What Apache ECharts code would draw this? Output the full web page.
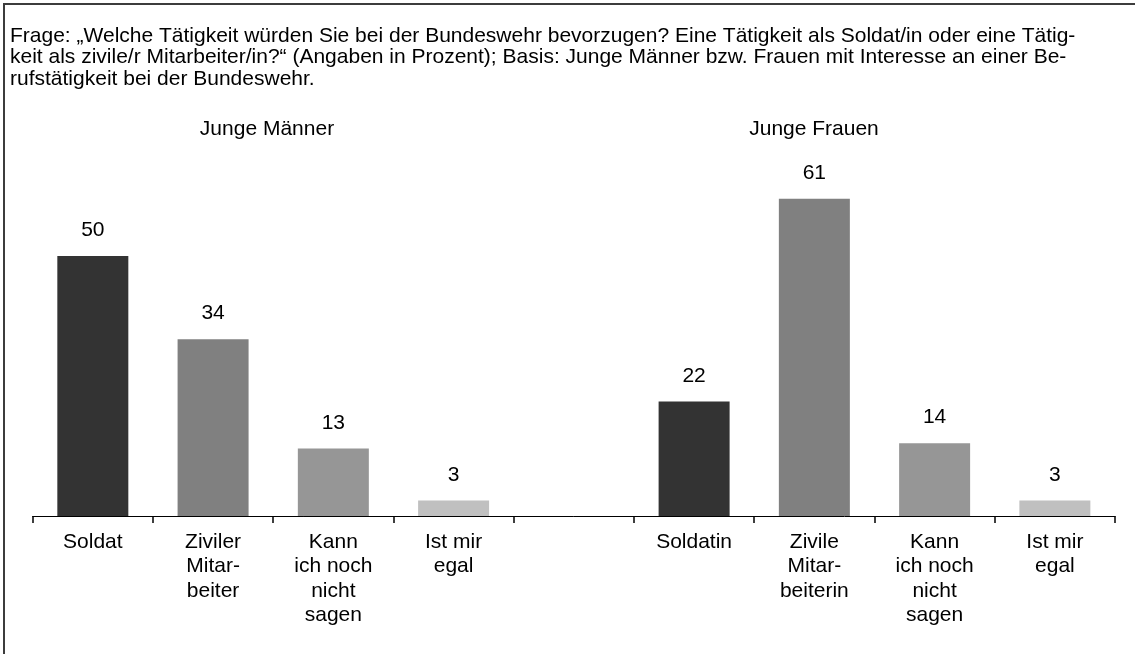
<!DOCTYPE html>
<html>
<head>
<meta charset="utf-8">
<script src="https://cdn.jsdelivr.net/npm/echarts@6/dist/echarts.min.js"></script>
<style>
  html, body { margin: 0; padding: 0; background: #fff; }
  #chart { width: 1135px; height: 654px; }
  #frame { position: absolute; left: 3px; top: 3px; right: -10px; bottom: -10px;
           border-top: 2px solid #3c3c3c; border-left: 2px solid #3c3c3c; pointer-events: none; }
</style>
</head>
<body>
<div id="chart"></div>
<div id="frame"></div>
<script>
// ---- data ----
const titleLines = [
  'Frage: „Welche Tätigkeit würden Sie bei der Bundeswehr bevorzugen? Eine Tätigkeit als Soldat/in oder eine Tätig-',
  'keit als zivile/r Mitarbeiter/in?“ (Angaben in Prozent); Basis: Junge Männer bzw. Frauen mit Interesse an einer Be-',
  'rufstätigkeit bei der Bundeswehr.'
];
const groupLabels = ['Junge Männer', 'Junge Frauen'];
const categories = [
  'Soldat', 'Ziviler\nMitar-\nbeiter', 'Kann\nich noch\nnicht\nsagen', 'Ist mir\negal',
  '',
  'Soldatin', 'Zivile\nMitar-\nbeiterin', 'Kann\nich noch\nnicht\nsagen', 'Ist mir\negal'
];
const values = [50, 34, 13, 3, null, 22, 61, 14, 3];
const answerIndex = [0, 1, 2, 3, -1, 0, 1, 2, 3];
const barColors = ['#333333', '#808080', '#969696', '#c0c0c0'];

const FONT = '"Liberation Sans", Arial, sans-serif';

const seriesData = values.map((v, i) => ({
  value: v,
  itemStyle: { color: answerIndex[i] >= 0 ? barColors[answerIndex[i]] : 'transparent' }
}));

const chart = echarts.init(document.getElementById('chart'), null, { renderer: 'canvas' });
chart.setOption({
  animation: false,
  backgroundColor: '#ffffff',
  title: [
    {
      text: titleLines.join('\n'),
      left: 5, top: 20,
      textStyle: { fontFamily: FONT, fontSize: 21, fontWeight: 'normal', color: '#000', lineHeight: 21.5 }
    },
    {
      text: groupLabels[0], left: 262, top: 114, textAlign: 'center',
      textStyle: { fontFamily: FONT, fontSize: 21, fontWeight: 'normal', color: '#000' }
    },
    {
      text: groupLabels[1], left: 809, top: 114, textAlign: 'center',
      textStyle: { fontFamily: FONT, fontSize: 21, fontWeight: 'normal', color: '#000' }
    }
  ],
  grid: { left: 32.7, right: 20, top: 152, bottom: 138, containLabel: false, outerBoundsMode: 'none' },
  xAxis: {
    type: 'category',
    data: categories,
    boundaryGap: true,
    axisLine: { show: true, lineStyle: { color: '#000', width: 1 } },
    axisTick: { show: true, length: 7, alignWithLabel: false, interval: 0, lineStyle: { color: '#000', width: 1.5 } },
    axisLabel: {
      interval: 0, margin: 14, color: '#000', fontFamily: FONT, fontSize: 21, lineHeight: 24.4, align: 'center'
    },
    splitLine: { show: false }
  },
  yAxis: {
    type: 'value', min: 0, max: 70, interval: 10, show: false, splitLine: { show: false }
  },
  series: [{
    type: 'bar',
    data: seriesData,
    barWidth: 71,
    label: {
      show: true, position: 'top', distance: 15, color: '#000', fontFamily: FONT, fontSize: 21
    }
  }]
});
</script>
</body>
</html>
